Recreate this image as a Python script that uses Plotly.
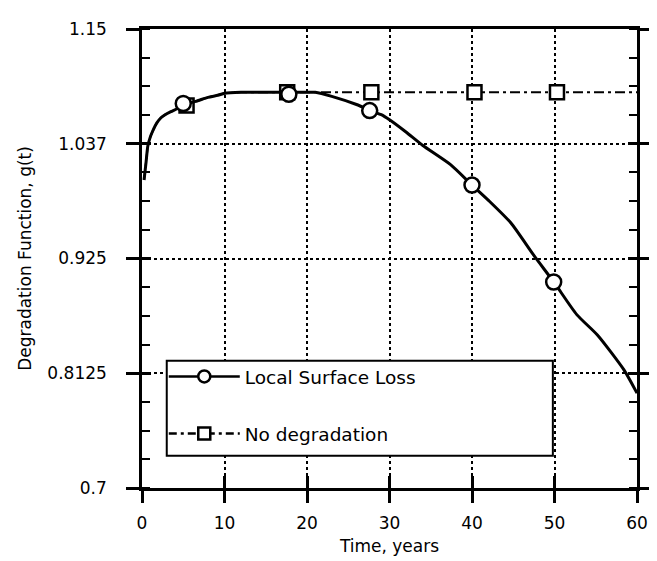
import plotly.graph_objects as go

# Local Surface Loss curve
t_loss = [0.25, 0.5, 0.7, 1.0, 1.3, 1.8, 2.3, 2.8, 3.5, 4.3, 5.0, 6.5, 8.0, 9.2, 10.0, 12.0, 15.0,
          17.8, 20.0, 21.0, 23.0, 26.0, 28.0, 29.0, 30.0, 32.0, 34.0, 37.4, 40.0, 42.0, 44.7,
          47.5, 50.0, 52.7, 55.2, 58.4, 60.0]
g_loss = [1.002, 1.020, 1.035, 1.044, 1.050, 1.058, 1.063, 1.066, 1.069, 1.072, 1.076, 1.079, 1.083,
          1.085, 1.087, 1.088, 1.088, 1.088, 1.088, 1.088, 1.084, 1.076, 1.069, 1.066, 1.061, 1.049,
          1.036, 1.017, 0.997, 0.982, 0.960, 0.928, 0.901, 0.870, 0.850, 0.816, 0.793]
t_loss_mk = [5.0, 17.8, 27.6, 40.0, 49.9]
g_loss_mk = [1.077, 1.086, 1.070, 0.997, 0.902]

# No degradation curve
t_nd = [0.25, 0.5, 0.7, 1.0, 1.3, 1.8, 2.3, 2.8, 3.5, 4.3, 5.0, 6.5, 8.0, 9.2, 10.0, 12.0, 15.0,
        17.8, 20.0, 60.0]
g_nd = [1.002, 1.020, 1.035, 1.044, 1.050, 1.058, 1.063, 1.066, 1.069, 1.072, 1.076, 1.079, 1.083,
        1.085, 1.087, 1.088, 1.088, 1.088, 1.088, 1.088]
t_nd_mk = [5.4, 17.6, 27.8, 40.3, 50.3]
g_nd_mk = [1.075, 1.088, 1.088, 1.088, 1.088]

x_ticks = [0, 10, 20, 30, 40, 50, 60]
y_ticks = [0.7, 0.8125, 0.925, 1.0375, 1.15]
y_tick_text = ["0.7", "0.8125", "0.925", "1.037", "1.15"]

FONT = "DejaVu Sans"
BLACK = "black"
nd_dash = "10px,4px,3px,4px"

fig = go.Figure()

# No degradation
fig.add_trace(go.Scatter(x=t_nd, y=g_nd, mode="lines",
                         line=dict(color=BLACK, width=2, dash=nd_dash), showlegend=False))
fig.add_trace(go.Scatter(x=t_nd_mk, y=g_nd_mk, mode="markers", showlegend=False,
                         marker=dict(symbol="square", size=14, color="white",
                                     line=dict(color=BLACK, width=2.5))))
# Local Surface Loss
fig.add_trace(go.Scatter(x=t_loss, y=g_loss, mode="lines",
                         line=dict(color=BLACK, width=3, shape="spline", smoothing=0.6),
                         showlegend=False))
fig.add_trace(go.Scatter(x=t_loss_mk, y=g_loss_mk, mode="markers", showlegend=False,
                         marker=dict(symbol="circle", size=15, color="white",
                                     line=dict(color=BLACK, width=2.5))))

# legend entries
fig.add_trace(go.Scatter(x=[None], y=[None], mode="lines+markers", name="Local Surface Loss",
                         legendgroup="a",
                         line=dict(color=BLACK, width=2.5),
                         marker=dict(symbol="circle", size=12, color="white",
                                     line=dict(color=BLACK, width=2.5))))
fig.add_trace(go.Scatter(x=[None], y=[None], mode="lines+markers", name="No degradation",
                         legendgroup="b",
                         line=dict(color=BLACK, width=2.5, dash="8px,4px,3px,4px"),
                         marker=dict(symbol="square", size=12, color="white",
                                     line=dict(color=BLACK, width=2.5))))
# invisible trace for overlay axes
fig.add_trace(go.Scatter(x=[None], y=[None], xaxis="x2", yaxis="y2", showlegend=False,
                         hoverinfo="skip"))

# legend box
fig.add_shape(type="rect", xref="paper", yref="paper", x0=0.05, x1=0.83, y0=0.07, y1=0.277,
              fillcolor="white", line=dict(color=BLACK, width=2), layer="above")

fig.update_layout(
    width=649, height=553,
    margin=dict(l=134, r=20, t=21, b=73),
    paper_bgcolor="white", plot_bgcolor="white",
    font=dict(family=FONT, color=BLACK, size=17),
    xaxis=dict(range=[0, 60], tickvals=x_ticks, ticks="outside", ticklen=12, tickwidth=2.5,
               tickcolor=BLACK, showline=True, linewidth=2.5, linecolor=BLACK, mirror=True,
               showgrid=True, gridcolor=BLACK, gridwidth=2, griddash="dot", zeroline=False,
               tickfont=dict(size=17), ticklabelstandoff=6, automargin=False,
               title=dict(text="Time, years", font=dict(size=17), standoff=8)),
    yaxis=dict(range=[0.7, 1.15], tickvals=y_ticks, ticktext=y_tick_text, ticks="outside",
               ticklen=13, tickwidth=2.5, tickcolor=BLACK, showline=True, linewidth=2.5,
               linecolor=BLACK, mirror="ticks", showgrid=True, gridcolor=BLACK, gridwidth=2,
               griddash="dot", zeroline=False, tickfont=dict(size=17), ticklabelstandoff=16,
               automargin=False,
               minor=dict(tick0=0.7, dtick=0.028125, ticks="inside", ticklen=8, tickwidth=2,
                          tickcolor=BLACK, showgrid=False),
               title=dict(text="Degradation Function, g(t)", font=dict(size=17), standoff=12)),
    xaxis2=dict(range=[0, 60], overlaying="x", anchor="y2", tickvals=x_ticks, ticks="inside",
                ticklen=12, tickwidth=2.5, tickcolor=BLACK, showticklabels=False, showline=False,
                showgrid=False, zeroline=False, automargin=False),
    yaxis2=dict(range=[0.7, 1.15], overlaying="y", anchor="x2", tickvals=y_ticks, ticks="inside",
                ticklen=9, tickwidth=2.5, tickcolor=BLACK, showticklabels=False, showline=False,
                mirror="ticks", showgrid=False, zeroline=False, automargin=False),
    legend=dict(x=0.044, y=0.2835, xanchor="left", yanchor="top", bgcolor="rgba(0,0,0,0)",
                borderwidth=0, font=dict(family=FONT, size=18.5), itemwidth=71,
                tracegroupgap=30, traceorder="grouped"),
    showlegend=True,
)

fig.write_html("out.html")
